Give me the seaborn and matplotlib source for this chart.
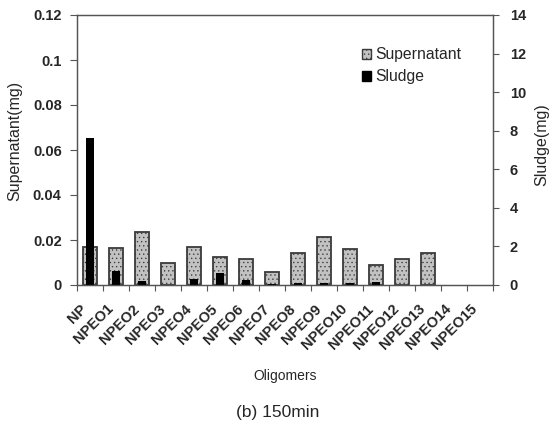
import matplotlib
matplotlib.use("Agg")
import matplotlib.pyplot as plt
from matplotlib.patches import Patch
from matplotlib.ticker import FixedLocator
import seaborn as sns
import pandas as pd

categories = ["NP", "NPEO1", "NPEO2", "NPEO3", "NPEO4", "NPEO5", "NPEO6", "NPEO7",
              "NPEO8", "NPEO9", "NPEO10", "NPEO11", "NPEO12", "NPEO13", "NPEO14", "NPEO15"]
supernatant = [0.0170, 0.0163, 0.0237, 0.0099, 0.0170, 0.0126, 0.0114, 0.0059,
               0.0144, 0.0212, 0.0159, 0.0089, 0.0114, 0.0144, 0.0, 0.0]
sludge = [7.6, 0.74, 0.21, 0.0, 0.30, 0.61, 0.26, 0.03,
          0.08, 0.08, 0.08, 0.14, 0.02, 0.02, 0.0, 0.0]
left_ticks = [0, 0.02, 0.04, 0.06, 0.08, 0.1, 0.12]
left_ticklabels = ["0", "0.02", "0.04", "0.06", "0.08", "0.1", "0.12"]
right_ticks = [0, 2, 4, 6, 8, 10, 12, 14]

sns.set_style("white")
plt.rcParams["font.family"] = ["Liberation Sans", "DejaVu Sans"]
plt.rcParams["hatch.linewidth"] = 0.45

df = pd.DataFrame({"Oligomer": categories, "Supernatant": supernatant, "Sludge": sludge})

fig = plt.figure(figsize=(5.52, 4.24), dpi=100)
ax = fig.add_axes([77 / 552, 1 - 285 / 424, 416 / 552, 270 / 424])
ax2 = ax.twinx()

sup_face = "#c2c2c2"
sup_edge = "#3a3a3a"
sns.barplot(data=df, x="Oligomer", y="Supernatant", order=categories, ax=ax,
            width=0.56, color=sup_face, edgecolor=sup_edge, linewidth=1.3,
            hatch="....", saturation=1, errorbar=None)
sns.barplot(data=df, x="Oligomer", y="Sludge", order=categories, ax=ax2,
            width=0.33, color="black", linewidth=0, saturation=1, errorbar=None)
for p in ax.patches:
    if p.get_height() == 0:
        p.set_linewidth(0)
        p.set_hatch(None)

n = len(categories)
ax.set_xlim(-0.5, n - 0.5)
ax.set_ylim(0, 0.12)
ax2.set_ylim(0, 14)

ax.set_xticks(range(n))
ax.set_xticklabels(categories, rotation=45, ha="right", fontsize=10.5, fontweight="bold")
ax.tick_params(axis="x", which="major", length=0, pad=12)
ax.xaxis.set_minor_locator(FixedLocator([i - 0.5 for i in range(n + 1)]))
ax.tick_params(axis="x", which="minor", length=4, width=0.8, color="#555555", direction="out", bottom=True)

ax.set_yticks(left_ticks)
ax.set_yticklabels(left_ticklabels, fontsize=10.5, fontweight="bold")
ax.tick_params(axis="y", length=5, width=0.8, color="#555555", direction="out", pad=6, left=True)

ax2.set_yticks(right_ticks)
ax2.set_yticklabels([str(t) for t in right_ticks], fontsize=10.5, fontweight="bold")
ax2.tick_params(axis="y", length=4, width=0.8, color="#555555", direction="out", pad=8, right=True)
ax2.set_xlabel("")

for a in (ax, ax2):
    for s in a.spines.values():
        s.set_visible(True)
        s.set_color("#555555")
        s.set_linewidth(0.9)

ax.set_xlabel("Oligomers", fontsize=10)
ax.xaxis.set_label_coords(0.5, -0.31)
ax.set_ylabel("Supernatant(mg)", fontsize=11.5)
ax.yaxis.set_label_coords(-0.132, 0.533)
ax2.set_ylabel("Sludge(mg)", fontsize=11.5)
ax2.yaxis.set_label_coords(1.1, 0.52)

handles = [Patch(facecolor=sup_face, edgecolor=sup_edge, hatch="....", linewidth=1.0, label="Supernatant"),
           Patch(facecolor="black", edgecolor="black", label="Sludge")]
ax2.legend(handles=handles, loc="upper left", bbox_to_anchor=(0.686, 0.88), frameon=False,
           fontsize=11.3, handlelength=0.55, handleheight=0.55, handletextpad=0.25,
           labelspacing=0.45, borderpad=0, borderaxespad=0)

fig.text(278 / 552, 1 - 413 / 424, "(b) 150min", ha="center", va="center", fontsize=12.5)

fig.savefig("out.png", dpi=100)
